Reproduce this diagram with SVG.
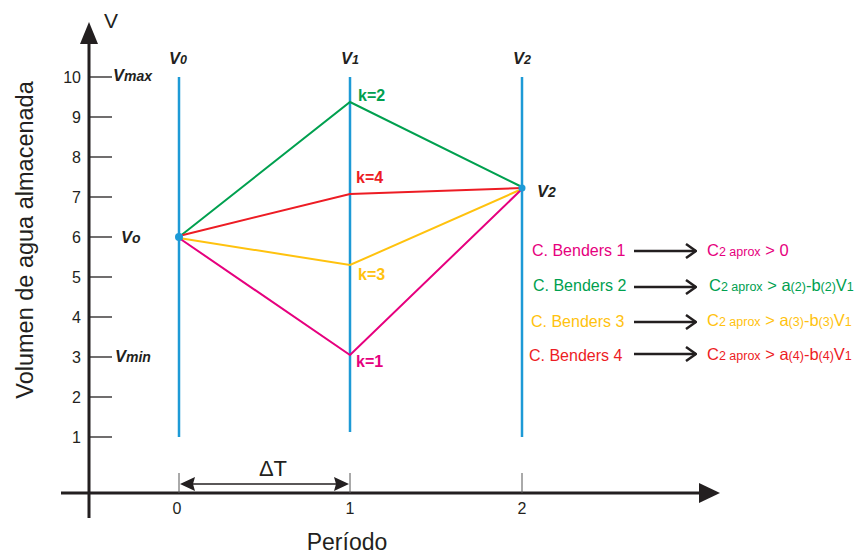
<svg xmlns="http://www.w3.org/2000/svg" width="858" height="555" viewBox="0 0 858 555">
<defs>
<style>
text{font-family:"Liberation Sans",Arial,sans-serif;fill:#231F20}
.ax{stroke:#231F20;stroke-width:3;fill:none}
.tk{stroke:#231F20;stroke-width:1.3;fill:none}
.num{font-size:16px;text-anchor:end}
.vl{stroke:#1D9AD6;stroke-width:2.5;fill:none}
.bi{font-weight:bold;font-style:italic;font-size:16.5px}
.sb{font-size:14px}
.k{font-weight:bold;font-size:16px}
.g{stroke:#00A04F;fill:none;stroke-width:2}
.r{stroke:#ED1C24;fill:none;stroke-width:2}
.y{stroke:#FFC20E;fill:none;stroke-width:2}
.m{stroke:#E6007E;fill:none;stroke-width:2}
.tg{fill:#00A04F}.tr{fill:#ED1C24}.ty{fill:#FFC20E}.tm{fill:#E6007E}
.bt{font-size:16px}
.rs{font-size:16.5px}
.s{font-size:12.5px}
.arr{stroke:#231F20;stroke-width:2.5;fill:none}
</style>
<marker id="chev" viewBox="0 0 12 16" refX="11" refY="8" markerWidth="12" markerHeight="16" markerUnits="userSpaceOnUse" orient="auto">
<path d="M1,1 L11,8 L1,15" fill="none" stroke="#231F20" stroke-width="2.5"/>
</marker>
</defs>
<rect width="858" height="555" fill="#fff"/>

<g id="axes">
<line class="ax" x1="89" y1="518" x2="89" y2="40"/>
<polygon points="80,44 89,22 98,44" fill="#231F20"/>
<line class="ax" x1="61" y1="493" x2="702" y2="493"/>
<polygon points="699,483 720,493 699,503" fill="#231F20"/>
<text x="104" y="28" style="font-size:21px">V</text>
<g class="tk">
<line x1="90" y1="77" x2="112" y2="77"/>
<line x1="90" y1="117" x2="112" y2="117"/>
<line x1="90" y1="157" x2="112" y2="157"/>
<line x1="90" y1="197" x2="112" y2="197"/>
<line x1="90" y1="237" x2="112" y2="237"/>
<line x1="90" y1="277" x2="112" y2="277"/>
<line x1="90" y1="317" x2="112" y2="317"/>
<line x1="90" y1="357" x2="112" y2="357"/>
<line x1="90" y1="397" x2="112" y2="397"/>
<line x1="90" y1="437" x2="112" y2="437"/>
</g>
<text class="num" x="81" y="83">10</text>
<text class="num" x="81" y="123">9</text>
<text class="num" x="81" y="163">8</text>
<text class="num" x="81" y="203">7</text>
<text class="num" x="81" y="243">6</text>
<text class="num" x="81" y="283">5</text>
<text class="num" x="81" y="323">4</text>
<text class="num" x="81" y="363">3</text>
<text class="num" x="81" y="403">2</text>
<text class="num" x="81" y="443">1</text>
<text class="bi" x="113" y="81">V<tspan class="sb">max</tspan></text>
<text class="bi" x="121" y="243">V<tspan class="sb">o</tspan></text>
<text class="bi" x="115" y="362">V<tspan class="sb">min</tspan></text>
<text transform="translate(33,240) rotate(-90)" text-anchor="middle" style="font-size:23.5px">Volumen de agua almacenada</text>
<g stroke="#555" stroke-width="1">
<line x1="179" y1="473" x2="179" y2="493"/>
<line x1="350" y1="473" x2="350" y2="493"/>
<line x1="522" y1="473" x2="522" y2="493"/>
</g>
<text x="177" y="514" text-anchor="middle" style="font-size:16px">0</text>
<text x="350" y="514" text-anchor="middle" style="font-size:16px">1</text>
<text x="522" y="514" text-anchor="middle" style="font-size:16px">2</text>
<text x="347" y="550" text-anchor="middle" style="font-size:23px">Período</text>
</g>

<g id="deltaT">
<line x1="190" y1="484" x2="339" y2="484" stroke="#231F20" stroke-width="1.3"/>
<polygon points="180,484 195,477 193,484 195,491" fill="#231F20"/>
<polygon points="349,484 334,477 336,484 334,491" fill="#231F20"/>
<text x="273" y="476" text-anchor="middle" style="font-size:22px">ΔT</text>
</g>

<g id="V0">
<line class="vl" x1="179" y1="77" x2="179" y2="437"/>
<text class="bi" x="169" y="64">V<tspan class="s">0</tspan></text>
</g>
<g id="V1">
<line class="vl" x1="350" y1="77" x2="350" y2="432"/>
<text class="bi" x="341" y="64">V<tspan class="s">1</tspan></text>
</g>
<g id="V2">
<line class="vl" x1="522" y1="77" x2="522" y2="437"/>
<text class="bi" x="513" y="64">V<tspan class="s">2</tspan></text>
<text class="bi" x="537" y="197">V<tspan class="sb">2</tspan></text>
</g>

<g id="connectors">
<polyline class="g" points="179,237 350,102 522,187"/>
<polyline class="r" points="179,236 350,194 522,188"/>
<polyline class="y" points="179,238 350,265 522,189"/>
<polyline class="m" points="179,238 350,355 522,189"/>
</g>

<g id="points">
<circle cx="179" cy="237" r="4" fill="#1D9AD6"/>
<circle cx="522" cy="188" r="3.5" fill="#1D9AD6"/>
</g>

<g id="k-labels">
<text class="k tg" x="358" y="101">k=2</text>
<text class="k tr" x="356" y="183">k=4</text>
<text class="k ty" x="358" y="280">k=3</text>
<text class="k tm" x="356" y="367">k=1</text>
</g>

<g id="benders1">
<text class="bt tm" x="532" y="256">C. Benders 1</text>
<line class="arr" x1="634" y1="251" x2="696" y2="251" marker-end="url(#chev)"/>
<text class="rs tm" x="707" y="256">C<tspan class="s">2 aprox</tspan> &gt; 0</text>
</g>
<g id="benders2">
<text class="bt tg" x="533" y="291">C. Benders 2</text>
<line class="arr" x1="634" y1="287" x2="696" y2="287" marker-end="url(#chev)"/>
<text class="rs tg" x="709" y="291">C<tspan class="s">2 aprox</tspan> &gt; a<tspan class="s">(2)</tspan>-b<tspan class="s">(2)</tspan>V<tspan class="s">1</tspan></text>
</g>
<g id="benders3">
<text class="bt ty" x="531" y="327">C. Benders 3</text>
<line class="arr" x1="634" y1="322" x2="696" y2="322" marker-end="url(#chev)"/>
<text class="rs ty" x="707" y="326">C<tspan class="s">2 aprox</tspan> &gt; a<tspan class="s">(3)</tspan>-b<tspan class="s">(3)</tspan>V<tspan class="s">1</tspan></text>
</g>
<g id="benders4">
<text class="bt tr" x="529" y="361">C. Benders 4</text>
<line class="arr" x1="634" y1="354" x2="696" y2="354" marker-end="url(#chev)"/>
<text class="rs tr" x="707" y="360">C<tspan class="s">2 aprox</tspan> &gt; a<tspan class="s">(4)</tspan>-b<tspan class="s">(4)</tspan>V<tspan class="s">1</tspan></text>
</g>
</svg>
